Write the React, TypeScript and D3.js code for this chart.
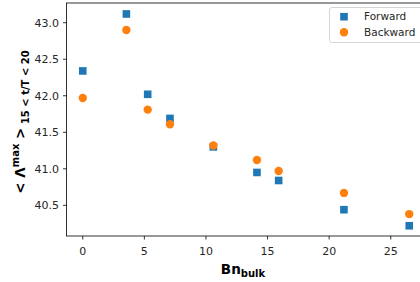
import React from "react";
import * as d3 from "d3";

const bnBulk = [0, 3.54, 5.27, 7.08, 10.6, 14.14, 15.9, 21.2, 26.5];
const forward = [42.34, 43.12, 42.02, 41.69, 41.3, 40.95, 40.84, 40.44, 40.22];
const backward = [41.97, 42.9, 41.81, 41.61, 41.32, 41.12, 40.97, 40.67, 40.38];
const xTicks = [0, 5, 10, 15, 20, 25];
const yTicks = [40.5, 41.0, 41.5, 42.0, 42.5, 43.0];
const seriesNames = ["Forward", "Backward"];
const colors = ["#1f77b4", "#ff7f0e"];

const W = 420;
const H = 282;
const left = 66.5;
const top = 3;
const right = 425.5;
const bottom = 236;

export default function App() {
  const x = d3.scaleLinear().domain([-1.32, 27.82]).range([left, right]);
  const y = d3.scaleLinear().domain([40.08, 43.27]).range([bottom, top]);
  const font = "DejaVu Sans, sans-serif";
  const sq = 7.6;
  const r = 4.2;
  return (
    <svg
      width={W}
      height={H}
      style={{ position: "absolute", left: 0, top: 0 }}
      fontFamily={font}
    >
      <rect x={0} y={0} width={W} height={H} fill="white" />
      {xTicks.map((t) => (
        <g key={"x" + t}>
          <line x1={x(t)} x2={x(t)} y1={bottom} y2={bottom + 3.5} stroke="#000" strokeWidth={0.8} />
          <text x={x(t)} y={254.5} fontSize={11} textAnchor="middle" fill="#262626">
            {t}
          </text>
        </g>
      ))}
      {yTicks.map((t) => (
        <g key={"y" + t}>
          <line x1={left - 3.5} x2={left} y1={y(t)} y2={y(t)} stroke="#000" strokeWidth={0.8} />
          <text x={left - 7.5} y={y(t) + 4} fontSize={11} textAnchor="end" fill="#262626">
            {t.toFixed(1)}
          </text>
        </g>
      ))}
      {bnBulk.map((b, i) => (
        <rect
          key={"f" + i}
          x={x(b) - sq / 2}
          y={y(forward[i]) - sq / 2}
          width={sq}
          height={sq}
          fill={colors[0]}
        />
      ))}
      {bnBulk.map((b, i) => (
        <circle key={"b" + i} cx={x(b)} cy={y(backward[i])} r={r} fill={colors[1]} />
      ))}
      <rect
        x={left}
        y={top}
        width={right - left}
        height={bottom - top}
        fill="none"
        stroke="#000"
        strokeWidth={0.8}
      />
      <rect
        x={329.5}
        y={7.5}
        width={100}
        height={35}
        rx={2.5}
        fill="white"
        fillOpacity={0.8}
        stroke="#cccccc"
        strokeWidth={0.8}
      />
      <rect x={344 - sq / 2} y={16.7 - sq / 2} width={sq} height={sq} fill={colors[0]} />
      <circle cx={344} cy={32.3} r={r} fill={colors[1]} />
      <text x={364} y={20.3} fontSize={10.5} fill="#262626">
        {seriesNames[0]}
      </text>
      <text x={364} y={36} fontSize={10.5} fill="#262626">
        {seriesNames[1]}
      </text>
      <text x={243} y={274} fontSize={13.5} fontWeight="bold" textAnchor="middle" fill="#000">
        Bn
        <tspan fontSize={10} dy={3}>bulk</tspan>
      </text>
      <text
        transform={`translate(25,122) rotate(-90)`}
        fontSize={13.5}
        fontWeight="bold"
        textAnchor="middle"
        fill="#000"
      >
        {"< Λ"}
        <tspan fontSize={10} dy={-6}>max</tspan>
        <tspan dy={6}>{" >"}</tspan>
        <tspan fontSize={10} dy={3.5}>{" 15 < t/T < 20"}</tspan>
      </text>
    </svg>
  );
}
